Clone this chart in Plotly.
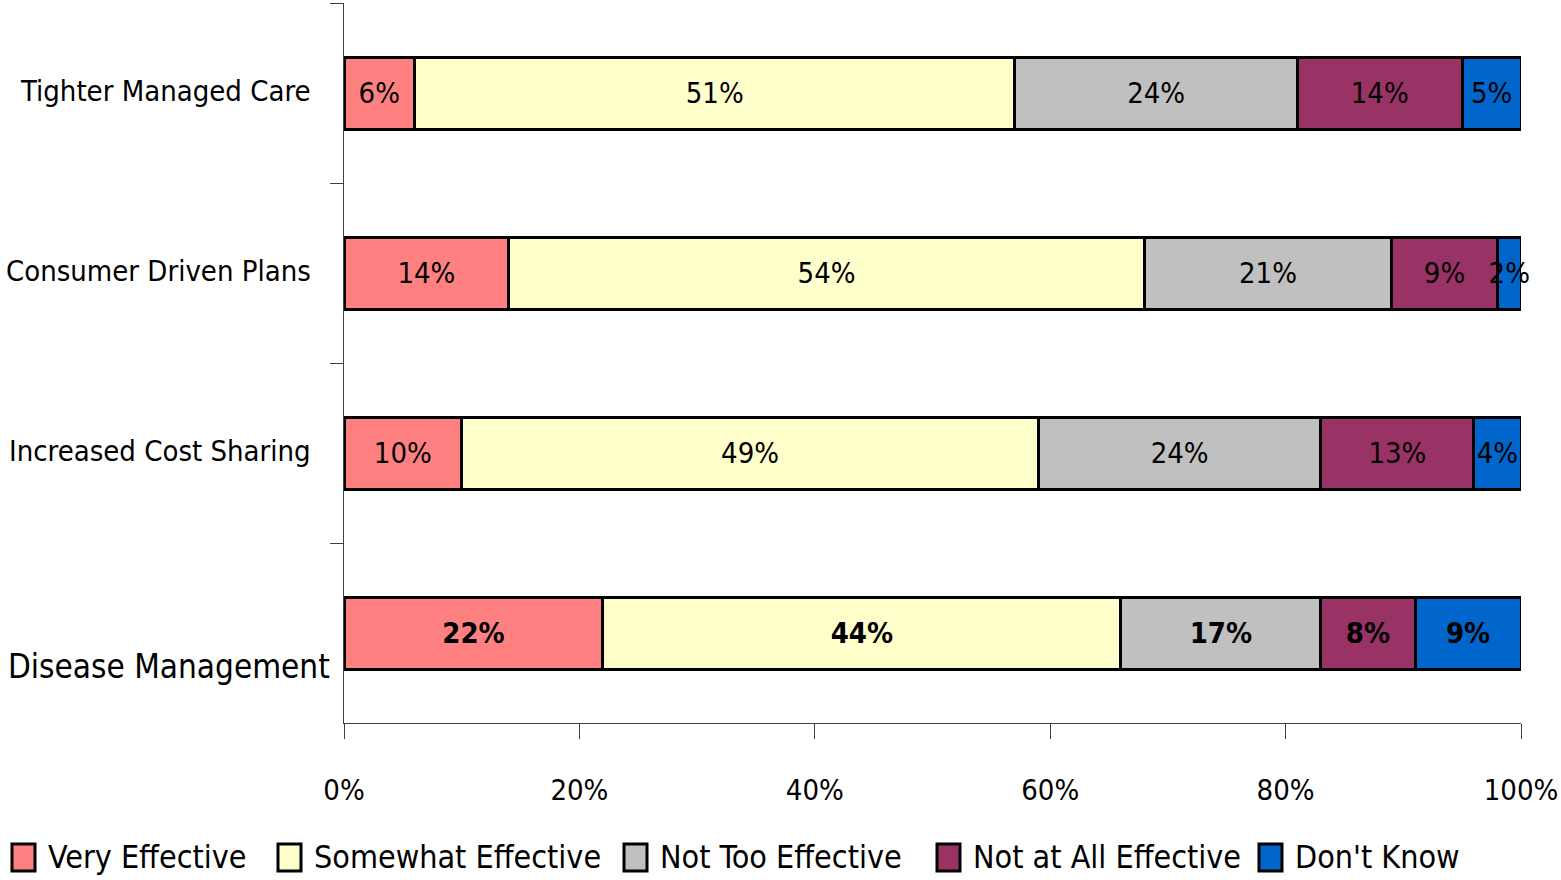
import plotly.graph_objects as go

categories = ["Tighter Managed Care", "Consumer Driven Plans", "Increased Cost Sharing", "Disease Management"]
series_names = ["Very Effective", "Somewhat Effective", "Not Too Effective", "Not at All Effective", "Don't Know"]
very_effective = [6, 14, 10, 22]
somewhat_effective = [51, 54, 49, 44]
not_too_effective = [24, 21, 24, 17]
not_at_all_effective = [14, 9, 13, 8]
dont_know = [5, 2, 4, 9]
colors = ["#FF8080", "#FFFFCC", "#C0C0C0", "#993366", "#0066CC"]
x_tick_vals = [0, 20, 40, 60, 80, 100]
x_tick_text = ["0%", "20%", "40%", "60%", "80%", "100%"]

FONT = "DejaVu Sans Condensed, Liberation Sans, sans-serif"

W, H = 1561, 880
ML, MR, MT, MB = 344, 40, 3, 157
PW, PH = W - ML - MR, H - MT - MB


def px_x(p):
    return (p - ML) / PW


def px_y(p):
    return (H - MB - p) / PH


fig = go.Figure()
all_series = [very_effective, somewhat_effective, not_too_effective, not_at_all_effective, dont_know]
for name, vals, col in zip(series_names, all_series, colors):
    texts = []
    for cat, v in zip(categories, vals):
        t = f"{v}%"
        if cat == "Disease Management":
            t = f"<b>{t}</b>"
        texts.append(t)
    fig.add_trace(go.Bar(
        y=categories, x=vals, name=name, orientation="h",
        marker=dict(color=col, line=dict(color="black", width=3)),
        text=texts, textposition="inside", insidetextanchor="middle", textangle=0,
        textfont=dict(family=FONT, size=29, color="black"),
        constraintext="none", cliponaxis=False, showlegend=False,
    ))

for cat in categories:
    big = cat == "Disease Management"
    fig.add_annotation(
        x=0, xref="paper", y=cat, yref="y", text=cat, showarrow=False,
        xanchor="right", yanchor="middle", xshift=-12 if big else -31,
        yshift=-33 if big else 2,
        font=dict(family=FONT, size=33 if big else 29, color="black"),
    )

# legend drawn as swatches + labels along the bottom
legend_left = [12, 278, 624, 937, 1259]
for name, col, lx in zip(series_names, colors, legend_left):
    fig.add_shape(type="rect", xref="paper", yref="paper",
                  x0=px_x(lx), x1=px_x(lx + 23), y0=px_y(844), y1=px_y(871),
                  fillcolor=col, line=dict(color="black", width=3), layer="above")
    fig.add_annotation(x=px_x(lx + 34), y=px_y(857), xref="paper", yref="paper",
                       text=name, showarrow=False, xanchor="left", yanchor="middle",
                       font=dict(family=FONT, size=32, color="black"))

fig.update_layout(
    barmode="stack", bargap=0.6,
    width=W, height=H,
    margin=dict(l=ML, r=MR, t=MT, b=MB, autoexpand=False),
    paper_bgcolor="white", plot_bgcolor="white",
    font=dict(family=FONT, color="black"),
    uniformtext=dict(minsize=29, mode="show"),
    showlegend=False,
)
fig.update_xaxes(range=[0, 100], tickvals=x_tick_vals, ticktext=x_tick_text,
                 showgrid=False, zeroline=False, showline=True, linecolor="#404040", linewidth=1,
                 ticks="outside", ticklen=15, tickcolor="#404040",
                 tickfont=dict(family=FONT, size=29, color="black"), ticklabelstandoff=26)
fig.update_yaxes(autorange="reversed", showticklabels=False, showgrid=False,
                 showline=True, linecolor="#404040", linewidth=1,
                 ticks="outside", ticklen=13, tickcolor="#404040", tickson="boundaries")

fig.write_html("out.html")
